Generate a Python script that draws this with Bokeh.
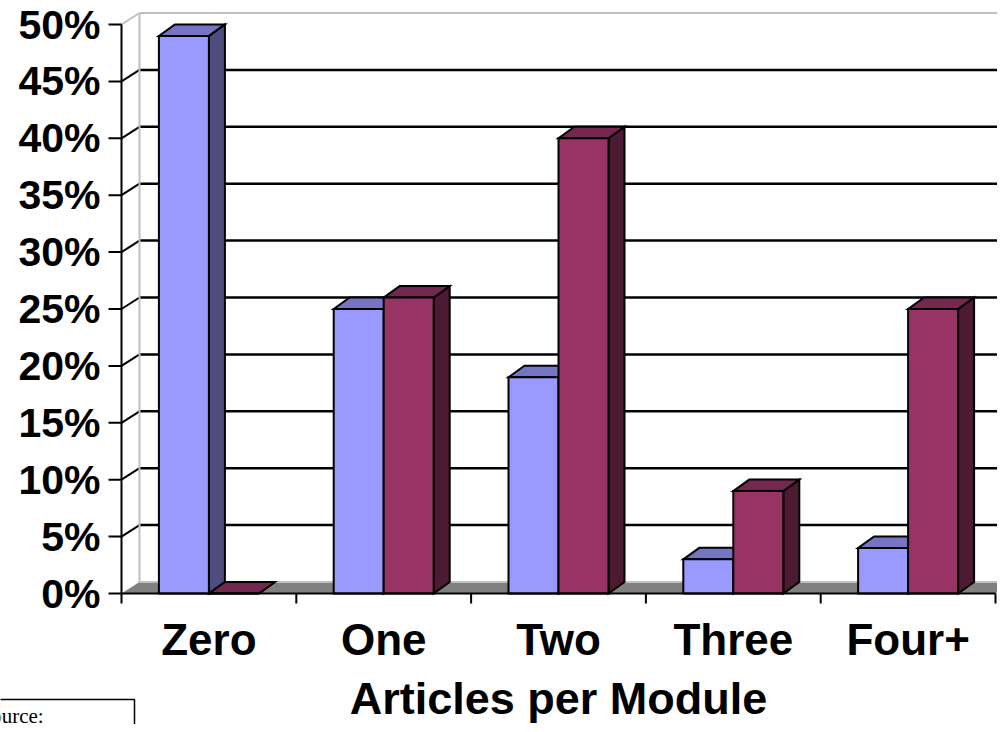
from bokeh.plotting import figure
from bokeh.models import Range1d, ColumnDataSource
from bokeh.core.properties import value
from bokeh.embed import file_html
from bokeh.resources import INLINE

# ---------------- data ----------------
categories = ["Zero", "One", "Two", "Three", "Four+"]
series_blue = [49, 25, 19, 3, 4]
series_red = [0, 26, 40, 9, 25]
y_ticks = [0, 5, 10, 15, 20, 25, 30, 35, 40, 45, 50]
y_tick_labels = ["0%", "5%", "10%", "15%", "20%", "25%", "30%", "35%", "40%", "45%", "50%"]
x_title = "Articles per Module"
source_note = "Source:"

# ---------------- styling ----------------
BLUE = ("#9999FF", "#7575C4", "#4D4D80")   # front, top, side
RED = ("#993366", "#75284F", "#4D1A33")
FLOOR = "#808080"
WALL = "#C0C0C0"
FONT = value("Liberation Sans")

W, H = 997, 724
ORIGIN_X, ORIGIN_Y = 121, 593   # canvas pixel of (0, 0%)
CAT_PX = 174.8             # pixels per category
PCT_PX = 11.38             # pixels per percent
px_x = 1.0 / CAT_PX
px_y = 1.0 / PCT_PX
x0 = -ORIGIN_X * px_x
x1 = x0 + W * px_x
y1 = ORIGIN_Y * px_y
y0 = y1 - H * px_y

WALL_DX, WALL_DY = 18 * px_x, 11.5 * px_y
BAR_DX, BAR_DY = 16 * px_x, 11.5 * px_y
BAR_W = 50 * px_x
ymax = y_ticks[-1]
ncat = len(categories)

p = figure(width=W, height=H, x_range=Range1d(x0, x1), y_range=Range1d(y0, y1),
           output_backend="svg", toolbar_location=None,
           x_axis_type=None, y_axis_type=None, min_border=0)
p.outline_line_color = None
p.background_fill_color = "white"
p.border_fill_color = "white"
p.xgrid.visible = False
p.ygrid.visible = False

# floor
p.patch([0, ncat, ncat + WALL_DX, WALL_DX], [0, 0, WALL_DY, WALL_DY],
        fill_color=FLOOR, line_color=None)
p.line([WALL_DX, x1], [WALL_DY, WALL_DY], line_color=WALL, line_width=2)

# side wall diagonals and back wall gridlines
grid_levels = y_ticks[1:-1]
p.multi_line([[0, WALL_DX] for v in grid_levels],
             [[v, v + WALL_DY] for v in grid_levels],
             line_color="black", line_width=2)
p.multi_line([[WALL_DX, x1] for v in grid_levels],
             [[v + WALL_DY, v + WALL_DY] for v in grid_levels],
             line_color="black", line_width=2.5)
# wall borders (grey)
p.line([0, WALL_DX], [ymax, ymax + WALL_DY], line_color=WALL, line_width=2)
p.line([WALL_DX, x1], [ymax + WALL_DY, ymax + WALL_DY], line_color=WALL, line_width=2)
p.line([WALL_DX, WALL_DX], [WALL_DY, ymax + WALL_DY], line_color=WALL, line_width=2)

# bars as 3D boxes
xs, ys, fills = [], [], []
for i in range(ncat):
    for k, (vals, cols) in enumerate(((series_blue, BLUE), (series_red, RED))):
        v = vals[i]
        l = i + 0.5 - BAR_W + k * BAR_W
        r = l + BAR_W
        xs.append([r, r + BAR_DX, r + BAR_DX, r]); ys.append([0, BAR_DY, v + BAR_DY, v]); fills.append(cols[2])
        xs.append([l, r, r + BAR_DX, l + BAR_DX]); ys.append([v, v, v + BAR_DY, v + BAR_DY]); fills.append(cols[1])
        xs.append([l, r, r, l]); ys.append([0, 0, v, v]); fills.append(cols[0])
src = ColumnDataSource(dict(xs=xs, ys=ys, fill=fills))
p.patches("xs", "ys", source=src, fill_color="fill", line_color="black", line_width=2,
          line_join="miter")

# value axis: line, ticks, labels
p.line([0, 0], [0, ymax], line_color="black", line_width=2)
p.segment(x0=[-13 * px_x] * len(y_ticks), y0=y_ticks, x1=[0] * len(y_ticks), y1=y_ticks,
          line_color="black", line_width=2)
ysrc = ColumnDataSource(dict(x=[-21 * px_x] * len(y_ticks), y=y_ticks, t=y_tick_labels))
p.text(x="x", y="y", text="t", source=ysrc, text_font=FONT, text_font_style="bold",
       text_font_size="41px", text_color="black", text_align="right", text_baseline="middle")

# category axis: line, boundary ticks, labels, title
p.line([0, ncat], [0, 0], line_color="black", line_width=2)
bounds = list(range(ncat + 1))
p.segment(x0=bounds, y0=[0] * len(bounds), x1=bounds, y1=[-10 * px_y] * len(bounds),
          line_color="black", line_width=2)
csrc = ColumnDataSource(dict(x=[i + 0.5 for i in range(ncat)], y=[-46 * px_y] * ncat, t=categories))
p.text(x="x", y="y", text="t", source=csrc, text_font=FONT, text_font_style="bold",
       text_font_size="44px", text_color="black", text_align="center", text_baseline="middle")
tsrc = ColumnDataSource(dict(x=[ncat / 2.0], y=[-105 * px_y], t=[x_title]))
p.text(x="x", y="y", text="t", source=tsrc, text_font=FONT, text_font_style="bold",
       text_font_size="45px", text_color="black", text_align="center", text_baseline="middle")

# source note box, cut by the page edge
p.quad(left=[-150 * px_x], right=[13 * px_x], top=[-106 * px_y], bottom=[-160 * px_y],
       fill_color="white", line_color="black", line_width=1.5)
nsrc = ColumnDataSource(dict(x=[-142 * px_x], y=[-122 * px_y], t=[source_note]))
p.text(x="x", y="y", text="t", source=nsrc, text_font=value("Liberation Serif"),
       text_font_size="21px", text_color="black", text_align="left", text_baseline="middle")

open("out.html", "w").write(file_html(p, INLINE))
